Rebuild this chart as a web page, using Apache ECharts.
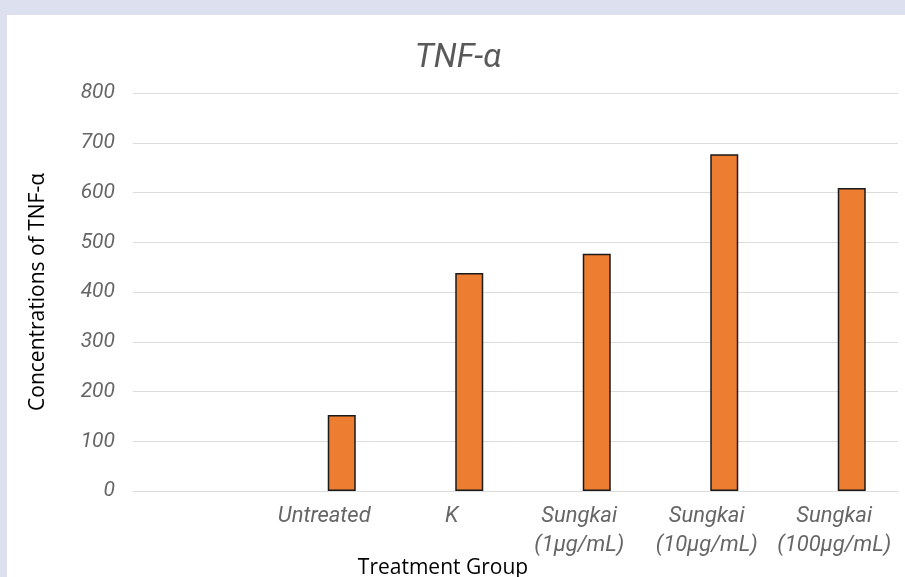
<!DOCTYPE html>
<html>
<head>
<meta charset="utf-8">
<script src="https://cdn.jsdelivr.net/npm/echarts@6/dist/echarts.min.js"></script>
<style>
html,body{margin:0;padding:0;width:905px;height:577px;overflow:hidden;background:#dde0ee;}
#chart{position:absolute;left:7px;top:15px;width:898px;height:562px;background:#ffffff;}
</style>
</head>
<body>
<div id="chart"></div>
<script>
var categories = ['', 'Untreated', 'K', 'Sungkai\n(1\u00b5g/mL)', 'Sungkai\n(10\u00b5g/mL)', 'Sungkai\n(100\u00b5g/mL)'];
var tnfValues = [null, 153, 438, 477, 677, 609];
var placeholderValues = [null, null, null, null, null, null];
var yTicks = [0, 100, 200, 300, 400, 500, 600, 700, 800];

var chart = echarts.init(document.getElementById('chart'), null, {renderer: 'canvas'});
chart.setOption({
  backgroundColor: '#ffffff',
  animation: false,
  title: {
    text: 'TNF-\u03b1',
    left: 446, top: 22, textAlign: 'center',
    textStyle: {fontFamily: 'Roboto', fontStyle: 'italic', fontWeight: 'normal', fontSize: 33, color: '#595959'}
  },
  grid: {left: 126, right: 7, top: 78, bottom: 86, containLabel: false},
  xAxis: {
    type: 'category',
    data: categories,
    axisLine: {show: true, lineStyle: {color: '#dcdcdc', width: 1}},
    axisTick: {show: false},
    axisLabel: {interval: 0, margin: 11, fontFamily: 'Roboto', fontStyle: 'italic', fontSize: 22, color: '#666666', lineHeight: 29}
  },
  yAxis: {
    type: 'value',
    min: yTicks[0], max: yTicks[yTicks.length - 1], interval: 100,
    name: 'Concentrations of TNF-\u03b1',
    nameLocation: 'middle', nameGap: 84,
    nameTextStyle: {fontFamily: 'Open Sans', fontSize: 21, color: '#000000'},
    axisLine: {show: false},
    axisTick: {show: false},
    splitLine: {lineStyle: {color: '#dcdcdc', width: 1}},
    axisLabel: {margin: 18, fontFamily: 'Roboto', fontStyle: 'italic', fontSize: 21, color: '#666666'}
  },
  graphic: [{
    type: 'text', x: 436, y: 553,
    style: {text: 'Treatment Group', fontFamily: 'Open Sans', fontSize: 21, fill: '#000000', textAlign: 'center', textVerticalAlign: 'middle'}
  }],
  series: [
    {type: 'bar', data: placeholderValues, barWidth: 28, barGap: '25%', silent: true},
    {type: 'bar', data: tnfValues, barWidth: 28, barGap: '25%',
     itemStyle: {color: '#ed7d31', borderColor: '#1a1a1a', borderWidth: 1.5}}
  ]
});
</script>
</body>
</html>
